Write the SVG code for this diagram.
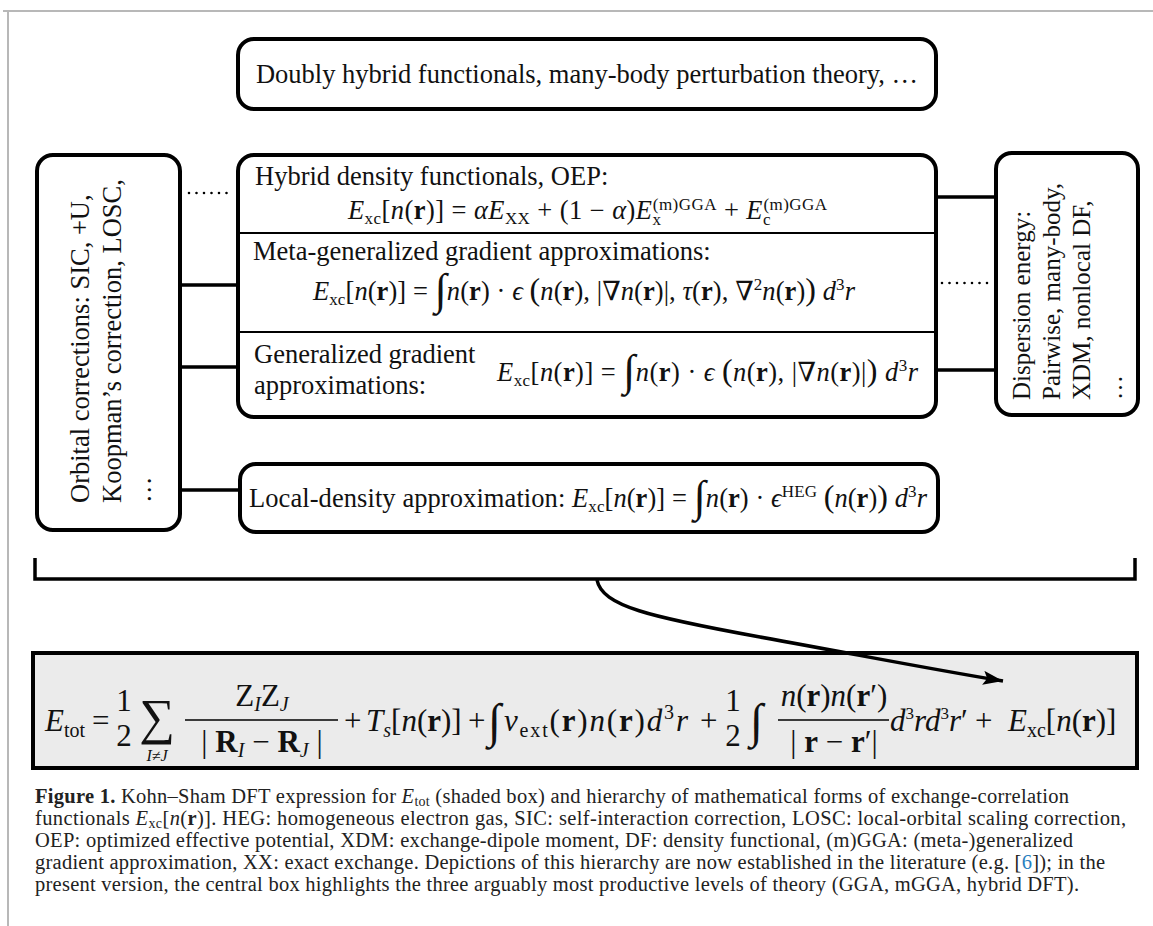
<svg xmlns="http://www.w3.org/2000/svg" width="1153" height="926" viewBox="0 0 1153 926">
<style>
.t{font-family:"Liberation Serif","DejaVu Serif",serif;font-size:26.5px;fill:#111}
.c{font-family:"Liberation Serif","DejaVu Serif",serif;font-size:20.5px;fill:#222}
.i{font-style:italic}
.b{font-weight:bold}
.s{font-size:17px}
.q{font-size:20px}
.box{fill:#fff;stroke:#000;stroke-width:4}
.ln{stroke:#000;stroke-width:3.5;fill:none}
.dot{stroke:#000;stroke-width:2.6;stroke-dasharray:0 7.5;stroke-linecap:round;fill:none}
</style>
<defs>
<marker id="ah" markerUnits="userSpaceOnUse" markerWidth="22" markerHeight="14" refX="20" refY="7" orient="auto">
<path d="M0,0 L20,7 L0,14 L4,7 z" fill="#000"/>
</marker>
</defs>
<rect width="1153" height="926" fill="#fff"/>
<g id="frame" stroke="#b8b8b8" stroke-width="2" fill="none">
<path d="M3 11 H1153 M8 11 V926"/>
</g>

<g id="top">
<rect class="box" x="238" y="39" width="698" height="70" rx="16"/>
<text class="t" x="587" y="83" text-anchor="middle">Doubly hybrid functionals, many-body perturbation theory, …</text>
</g>

<g id="left">
<rect class="box" x="37" y="155" width="143" height="375" rx="16"/>
<text class="t" transform="translate(89,503) rotate(-90)">Orbital corrections: SIC, +U,</text>
<text class="t" transform="translate(121,503) rotate(-90)">Koopman’s correction, LOSC,</text>
<text class="t" transform="translate(151,503) rotate(-90)">…</text>
</g>

<g id="right">
<rect class="box" x="996" y="153" width="142" height="262" rx="16"/>
<text class="t" style="font-size:25px" transform="translate(1030,400) rotate(-90)">Dispersion energy:</text>
<text class="t" style="font-size:25px" transform="translate(1060,400) rotate(-90)">Pairwise, many-body,</text>
<text class="t" style="font-size:25px" transform="translate(1090,400) rotate(-90)">XDM, nonlocal DF,</text>
<text class="t" style="font-size:25px" transform="translate(1122,400) rotate(-90)">…</text>
</g>

<g id="central">
<rect class="box" x="238" y="155" width="698" height="262" rx="16"/>
<path d="M238 233 H936 M238 332 H936" stroke="#000" stroke-width="2"/>
<text class="t" x="255" y="185">Hybrid density functionals, OEP:</text>
<text class="t" x="348" y="219" textLength="479" lengthAdjust="spacing"><tspan class="i">E</tspan><tspan class="s" baseline-shift="-5">xc</tspan>[<tspan class="i">n</tspan>(<tspan class="b">r</tspan>)] = <tspan class="i">αE</tspan><tspan class="s" baseline-shift="-5">XX</tspan> + (1 − <tspan class="i">α</tspan>)<tspan class="i">E</tspan><tspan class="s" baseline-shift="-6">x</tspan><tspan class="s" dx="-8.5" baseline-shift="9">(m)GGA</tspan> + <tspan class="i">E</tspan><tspan class="s" baseline-shift="-6">c</tspan><tspan class="s" dx="-7.5" baseline-shift="9">(m)GGA</tspan></text>
<text class="t" x="253" y="260">Meta-generalized gradient approximations:</text>
<text class="t" x="313" y="300" textLength="542" lengthAdjust="spacing"><tspan class="i">E</tspan><tspan class="s" baseline-shift="-5">xc</tspan>[<tspan class="i">n</tspan>(<tspan class="b">r</tspan>)] = <tspan style="font-size:44px" baseline-shift="-4">∫</tspan><tspan class="i">n</tspan>(<tspan class="b">r</tspan>) · <tspan class="i">ϵ</tspan> <tspan style="font-size:32px">(</tspan><tspan class="i">n</tspan>(<tspan class="b">r</tspan>), |∇<tspan class="i">n</tspan>(<tspan class="b">r</tspan>)|, <tspan class="i">τ</tspan>(<tspan class="b">r</tspan>), ∇<tspan class="s" baseline-shift="10">2</tspan><tspan class="i">n</tspan>(<tspan class="b">r</tspan>)<tspan style="font-size:32px">)</tspan> <tspan class="i">d</tspan><tspan class="s" baseline-shift="10">3</tspan><tspan class="i">r</tspan></text>
<text class="t" x="254" y="363">Generalized gradient</text>
<text class="t" x="254" y="394">approximations:</text>
<text class="t" x="497" y="381" textLength="421" lengthAdjust="spacing"><tspan class="i">E</tspan><tspan class="s" baseline-shift="-5">xc</tspan>[<tspan class="i">n</tspan>(<tspan class="b">r</tspan>)] = <tspan style="font-size:44px" baseline-shift="-4">∫</tspan><tspan class="i">n</tspan>(<tspan class="b">r</tspan>) · <tspan class="i">ϵ</tspan> <tspan style="font-size:32px">(</tspan><tspan class="i">n</tspan>(<tspan class="b">r</tspan>), |∇<tspan class="i">n</tspan>(<tspan class="b">r</tspan>)|<tspan style="font-size:32px">)</tspan> <tspan class="i">d</tspan><tspan class="s" baseline-shift="10">3</tspan><tspan class="i">r</tspan></text>
</g>

<g id="lda">
<rect class="box" x="240" y="464" width="698" height="68" rx="16"/>
<text class="t" x="249" y="507" textLength="678" lengthAdjust="spacing">Local-density approximation: <tspan class="i">E</tspan><tspan class="s" baseline-shift="-5">xc</tspan>[<tspan class="i">n</tspan>(<tspan class="b">r</tspan>)] = <tspan style="font-size:44px" baseline-shift="-4">∫</tspan><tspan class="i">n</tspan>(<tspan class="b">r</tspan>) · <tspan class="i">ϵ</tspan><tspan class="s" baseline-shift="10">HEG</tspan> <tspan style="font-size:32px">(</tspan><tspan class="i">n</tspan>(<tspan class="b">r</tspan>)<tspan style="font-size:32px">)</tspan> <tspan class="i">d</tspan><tspan class="s" baseline-shift="10">3</tspan><tspan class="i">r</tspan></text>
</g>

<g id="etot">
<rect x="33" y="653" width="1104" height="115" fill="#ebebeb" stroke="#000" stroke-width="4"/>
<g class="t" style="font-size:31px">
<text x="45" y="731"><tspan class="i">E</tspan><tspan class="q" baseline-shift="-6">tot</tspan></text>
<text x="92" y="731">=</text>
<text x="124" y="711" text-anchor="middle">1</text>
<text x="124" y="746" text-anchor="middle">2</text>
<text x="157" y="734" text-anchor="middle" style="font-size:50px">∑</text>
<text x="157" y="761" text-anchor="middle" class="i" style="font-size:16px">I≠J</text>
<text x="262" y="706" text-anchor="middle">Z<tspan class="i q" baseline-shift="-5">I</tspan>Z<tspan class="i q" baseline-shift="-5">J</tspan></text>
<path d="M185 720 H338" stroke="#000" stroke-width="1.6"/>
<text x="262" y="752" text-anchor="middle">| <tspan class="b">R</tspan><tspan class="i q" baseline-shift="-5">I</tspan> − <tspan class="b">R</tspan><tspan class="i q" baseline-shift="-5">J</tspan> |</text>
<text x="344" y="731">+</text>
<text x="366" y="731"><tspan class="i">T</tspan><tspan class="i q" baseline-shift="-6">s</tspan>[<tspan class="i">n</tspan>(<tspan class="b">r</tspan>)]</text>
<text x="468" y="731">+</text>
<text x="488" y="737" style="font-size:48px">∫</text>
<text x="504" y="731" textLength="184" lengthAdjust="spacing"><tspan class="i">v</tspan><tspan class="q" baseline-shift="-6">ext</tspan>(<tspan class="b">r</tspan>)<tspan class="i">n</tspan>(<tspan class="b">r</tspan>)<tspan class="i">d</tspan><tspan class="q" baseline-shift="12">3</tspan><tspan class="i">r</tspan></text>
<text x="700" y="731">+</text>
<text x="733" y="711" text-anchor="middle">1</text>
<text x="733" y="746" text-anchor="middle">2</text>
<text x="750" y="737" style="font-size:48px">∫</text>
<text x="834" y="706" text-anchor="middle"><tspan class="i">n</tspan>(<tspan class="b">r</tspan>)<tspan class="i">n</tspan>(<tspan class="b">r</tspan>′)</text>
<path d="M778 720 H889" stroke="#000" stroke-width="1.6"/>
<text x="834" y="752" text-anchor="middle">| <tspan class="b">r</tspan> − <tspan class="b">r</tspan>′|</text>
<text x="890" y="731"><tspan class="i">d</tspan><tspan style="font-size:17px" baseline-shift="12">3</tspan><tspan class="i">rd</tspan><tspan style="font-size:17px" baseline-shift="12">3</tspan><tspan class="i">r</tspan>′</text>
<text x="975" y="731">+</text>
<text x="1008" y="731"><tspan class="i">E</tspan><tspan class="q" baseline-shift="-6">xc</tspan>[<tspan class="i">n</tspan>(<tspan class="b">r</tspan>)]</text>
</g>
</g>

<g id="caption" class="c">
<text x="35" y="803" textLength="1034" lengthAdjust="spacing"><tspan class="b">Figure 1.</tspan> Kohn–Sham DFT expression for <tspan class="i">E</tspan><tspan style="font-size:14px" baseline-shift="-3">tot</tspan> (shaded box) and hierarchy of mathematical forms of exchange-correlation</text>
<text x="35" y="825" textLength="1091" lengthAdjust="spacing">functionals <tspan class="i">E</tspan><tspan style="font-size:14px" baseline-shift="-3">xc</tspan>[<tspan class="i">n</tspan>(<tspan class="b">r</tspan>)]. HEG: homogeneous electron gas, SIC: self-interaction correction, LOSC: local-orbital scaling correction,</text>
<text x="35" y="847" textLength="1038" lengthAdjust="spacing">OEP: optimized effective potential, XDM: exchange-dipole moment, DF: density functional, (m)GGA: (meta-)generalized</text>
<text x="35" y="869" textLength="1070" lengthAdjust="spacing">gradient approximation, XX: exact exchange. Depictions of this hierarchy are now established in the literature (e.g. [<tspan fill="#2a7fc0">6</tspan>]); in the</text>
<text x="35" y="891" textLength="1044" lengthAdjust="spacing">present version, the central box highlights the three arguably most productive levels of theory (GGA, mGGA, hybrid DFT).</text>
</g>

<g id="connectors">
<path class="ln" d="M180 285 H238 M180 367 H238 M180 490 H240 M936 197 H996 M936 370 H996"/>
<path class="dot" d="M189 193 H234"/>
<path class="dot" d="M942 283 H994"/>
<path class="ln" stroke-width="4" d="M35 558 V579 H1135 V558"/>
<path class="ln" d="M597 580 C602 606 650 617 760 637 S930 669 1003 681" marker-end="url(#ah)"/>
</g>
</svg>
